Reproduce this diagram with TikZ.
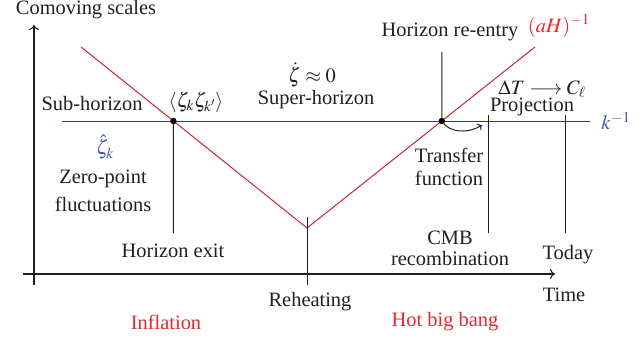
\documentclass[tikz,border=0pt]{standalone}
\usepackage[no-math]{fontspec}
\usepackage{mathptmx}
\setmainfont{Liberation Serif}
\usetikzlibrary{arrows.meta}
\definecolor{redline}{RGB}{196,40,45}
\definecolor{redtext}{RGB}{232,38,43}
\definecolor{blueline}{RGB}{40,55,150}
\definecolor{bluetext}{RGB}{60,90,170}
\definecolor{ink}{RGB}{35,31,32}
\begin{document}
\begin{tikzpicture}[x=1bp,y=-1bp,
  lbl/.style={inner sep=0pt, text=ink, font=\fontsize{20.5}{21}\selectfont, align=center},
  axis/.style={draw=ink, line width=1.1pt},
  vline/.style={draw=ink, line width=1pt},
  tipstyle/.style={-{To[length=5pt,width=10pt]}}
]
\useasboundingbox (0,0) rectangle (644,341);
% axes
\coordinate (yb) at (34,285); \coordinate (yt) at (34,25);
\coordinate (xl) at (23,274); \coordinate (xr) at (555,274);
\draw[axis, tipstyle] (yb) -- (yt);
\draw[axis, tipstyle] (xl) -- (xr);
% k^-1 line and (aH)^-1
\coordinate (kl) at (62,121); \coordinate (kr) at (590,121);
\coordinate (rA) at (81,47); \coordinate (rB) at (307,228); \coordinate (rC) at (535,47);
\draw[blueline, line width=1pt] (kl) -- (kr);
\draw[redline, line width=1pt] (rA) -- (rB) -- (rC);
\coordinate (exitpt) at (intersection of rA--rB and kl--kr);
\coordinate (entrypt) at (intersection of rB--rC and kl--kr);
% vertical markers
\coordinate (exitlow) at (173.4,233);
\draw[vline] (exitpt) -- (exitlow);
\coordinate (rh1) at (307,217); \coordinate (rh2) at (307,285);
\draw[vline] (rh1) -- (rh2);
\coordinate (re1) at (441.8,52);
\draw[vline] (re1) -- (entrypt);
\coordinate (cmb1) at (488,115); \coordinate (cmb2) at (488,233);
\draw[vline] (cmb1) -- (cmb2);
\coordinate (td1) at (565,115); \coordinate (td2) at (565,233);
\draw[vline] (td1) -- (td2);
\fill[black] (exitpt) circle (3.2);
\fill[black] (entrypt) circle (3.2);
% transfer arrow
\coordinate (tfend) at (482,125);
\draw[ink, line width=1pt, -{To[length=4pt,width=8pt]}] (entrypt) .. controls (449,133) and (468,134) .. (tfend);
% labels
\node[lbl] (comov) at (86,10) {Comoving scales};
\node[lbl] (sub) at (92,104) {Sub-horizon};
\node[lbl] (corr) at (196,102) {$\langle\zeta_k\zeta_{k'}\rangle$};
\node[lbl] (zdot) at (312,75) {$\dot\zeta\approx 0$};
\node[lbl] (super) at (316,100) {Super-horizon};
\node[lbl] (reentry) at (450,32) {Horizon re-entry};
\node[lbl, text=redtext] (aH) at (559,26) {$(aH)^{-1}$};
\node[lbl] (dT) at (542,89) {$\Delta T\longrightarrow C_\ell$};
\node[lbl] (proj) at (532,107) {Projection};
\node[lbl, text=bluetext] (kinv) at (616,121) {$k^{-1}$};
\node[lbl, text=bluetext] (zhat) at (105,147) {$\hat\zeta_k$};
\node[lbl] (zpf) at (103,191) {Zero-point\\[7pt]fluctuations};
\node[lbl] (hexit) at (173,251) {Horizon exit};
\node[lbl] (tf) at (449,167) {Transfer\\[2pt]function};
\node[lbl] (cmb) at (450,248) {CMB\\recombination};
\node[lbl] (today) at (568,255) {Today};
\node[lbl] (time) at (564,295) {Time};
\node[lbl] (reh) at (310,302) {Reheating};
\node[lbl, text=redtext] (infl) at (166,322) {Inflation};
\node[lbl, text=redtext] (hbb) at (445,322) {Hot big bang};
\end{tikzpicture}
\end{document}
